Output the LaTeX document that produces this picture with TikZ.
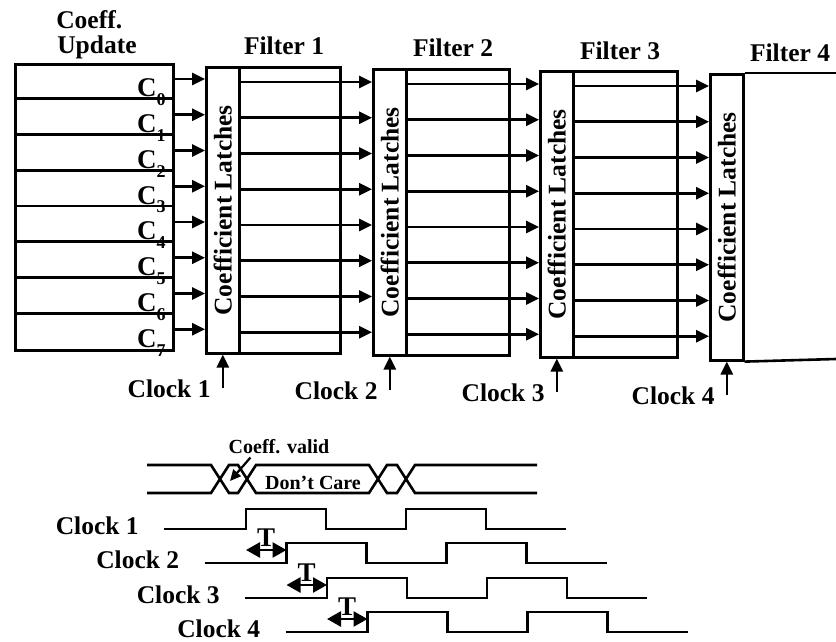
\documentclass[tikz,border=0pt]{standalone}
\usepackage{fontspec}
\setmainfont{Liberation Serif}
\usetikzlibrary{arrows.meta,calc}
\begin{document}
\begin{tikzpicture}[x=1pt,y=-1pt,line width=2.6pt,line join=miter,
  big/.style={font=\bfseries\fontsize{25.5}{27}\selectfont, inner sep=0pt},
  small/.style={font=\bfseries\fontsize{20}{22}\selectfont, inner sep=0pt},
  tfont/.style={font=\bfseries\fontsize{27}{27}\selectfont, inner sep=0pt},
  tri/.style={-{Triangle[length=13pt,width=12pt]}},
  dbl/.style={{Triangle[length=14pt,width=15pt]}-{Triangle[length=14pt,width=15pt]}},
  latchbox/.style={draw, inner sep=0pt, minimum width=33pt, minimum height=286pt, anchor=north west},
  boxstyle/.style={draw, inner sep=0pt, anchor=north west, minimum height=286pt}
]
\useasboundingbox (0,0) rectangle (836,642);

% ---------- titles ----------
\node[big, anchor=base west] (tcoeff) at (55,29) {Coeff.};
\node[big, anchor=base west] (tupd) at (56,54) {Update};
\node[big, anchor=base] (tf1) at (284,55) {Filter 1};
\node[big, anchor=base] (tf2) at (453,57) {Filter 2};
\node[big, anchor=base] (tf3) at (620,60) {Filter 3};
\node[big, anchor=base] (tf4) at (790,62) {Filter 4};

% ---------- coefficient update box ----------
\node[boxstyle, minimum width=158pt] (cbox) at (14,63) {};
\foreach \i [evaluate=\i as \yr using {63+35.75*\i}] in {1,...,7}
  \draw (cbox.west |- 0,\yr) -- (cbox.east |- 0,\yr);
\foreach \i [evaluate=\i as \yb using {63+35.75*(\i+1)-2}] in {0,...,7}
  \node[big, anchor=base east, font=\bfseries\fontsize{27}{27}\selectfont] (c\i) at (167,\yb) {C\raisebox{-9pt}{\fontsize{18}{18}\selectfont\i}};

% ---------- filters with latches ----------
\foreach \k/\xl/\xr/\o in {1/205/339/3, 2/372/508/5, 3/539/676/7} {
  \pgfmathsetmacro\w{\xr-\xl}
  \node[boxstyle, minimum width=\w pt] (f\k) at (\xl,63+\o) {};
  \node[latchbox] (l\k) at (\xl,63+\o) {};
}
\node[latchbox] (l4) at (709,73) {};
\coordinate (f4ne) at (836,73);
\coordinate (f4se) at (836,359);
\draw (l4.north east) -- (f4ne);
\draw (l4.south east) -- (f4se);

\foreach \k in {1,...,4}
  \node[big, rotate=90] (lt\k) at (l\k.center) {Coefficient Latches};

% ---------- coefficient arrows ----------
\foreach \s/\t/\o in {cbox/l1/0, l1/l2/3, l2/l3/5, l3/l4/7} {
  \foreach \i [evaluate=\i as \yy using {79+35.75*\i+\o}] in {0,...,7}
    \draw[tri] (\s.east |- 0,\yy) -- (\t.west |- 0,\yy);
}

% ---------- clock inputs ----------
\foreach \k/\cb in {1/388, 2/390, 3/392, 4/395} {
  \coordinate (ck\k) at (l\k.south |- 0,\cb);
  \draw[tri] (ck\k) -- (l\k.south);
  \node[big, anchor=base east] (cl\k) at ($(ck\k)+(-11,9)$) {Clock \k};
}

% ---------- bus waveform ----------
\draw (147,465) -- (211,465) -- (229,493) -- (238,493) -- (256,465) -- (369,465)
      -- (387,493) -- (397,493) -- (415,465) -- (537,465);
\draw (147,493) -- (211,493) -- (229,465) -- (238,465) -- (256,493) -- (369,493)
      -- (387,465) -- (397,465) -- (415,493) -- (537,493);
\node[small, anchor=base] (cv) at (279,453) {Coeff. valid};
\coordinate (cvtip) at (230,481);
\draw[-{Triangle[length=11pt,width=10pt]}, line width=2.2pt]
  ([xshift=23pt,yshift=-3pt]cv.south west) -- (cvtip);
\node[small, anchor=base] (dc) at (313,489) {Don't Care};

% ---------- clock waveforms ----------
\foreach \k/\r/\L in {1/246/529, 2/286.5/563, 3/327/598, 4/367.5/632} {
  \node[big, anchor=base east] (w\k) at (\r-106,\L+5) {Clock \k};
  \coordinate (ws\k) at (\r-82,\L);
  \draw (ws\k) -- ++(82,0) -- ++(0,-20) -- ++(80,0) -- ++(0,20) -- ++(80,0)
        -- ++(0,-20) -- ++(80,0) -- ++(0,20) -- ++(80,0);
}

% ---------- delay marks ----------
\foreach \n/\a/\b/\L in {1/246/286.5/563, 2/286.5/327/598, 3/327/367.5/632} {
  \coordinate (ta\n) at (\a,\L-13);
  \coordinate (tb\n) at (\b,\L-13);
  \draw[dbl] (ta\n) -- (tb\n);
  \node[tfont, anchor=base] (t\n) at ($(ta\n)!0.5!(tb\n)+(0,-4)$) {T};
}
\end{tikzpicture}
\end{document}
